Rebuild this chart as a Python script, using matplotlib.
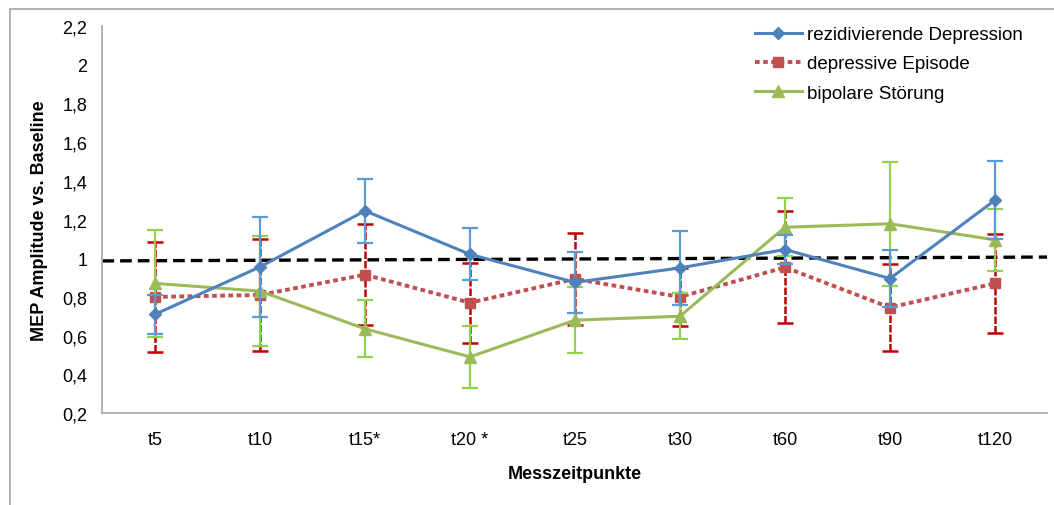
import numpy as np
import matplotlib
import matplotlib.pyplot as plt
from matplotlib.ticker import FuncFormatter, MultipleLocator
from matplotlib.patches import Rectangle
from matplotlib.lines import Line2D

matplotlib.use('Agg')

plt.rcParams['font.family'] = ['Liberation Sans', 'DejaVu Sans']

# categories and series values
zeitpunkte = ["t5", "t10", "t15*", "t20 *", "t25", "t30", "t60", "t90", "t120"]

rezidiv = [0.71, 0.955, 1.245, 1.02, 0.875, 0.95, 1.045, 0.895, 1.30]
rezidiv_err = [0.10, 0.26, 0.165, 0.135, 0.157, 0.19, 0.073, 0.145, 0.20]

episode = [0.80, 0.81, 0.915, 0.77, 0.893, 0.80, 0.953, 0.745, 0.87]
episode_err = [0.285, 0.29, 0.26, 0.207, 0.236, 0.15, 0.29, 0.223, 0.254]

bipolar = [0.87, 0.83, 0.635, 0.49, 0.68, 0.70, 1.16, 1.178, 1.095]
bipolar_err = [0.275, 0.285, 0.148, 0.16, 0.172, 0.12, 0.15, 0.32, 0.16]

baseline = [0.986, 1.006]  # slightly tilted reference line at 1

x = np.arange(len(zeitpunkte))

fig = plt.figure(figsize=(10.54, 5.06), dpi=100)
ax = fig.add_axes([0.0972, 0.1818, 0.8966, 0.7648])

# outer frame of the original chart
fig.patches.append(Rectangle((10 / 1054, -0.1), 1.2, 1 - 10 / 506 + 0.1,
                             transform=fig.transFigure, fill=False,
                             edgecolor="#a6a6a6", linewidth=1.2))

# dashed baseline
ax.plot([-0.5, 8.5], baseline, color="black", linestyle=(0, (3.5, 1.8)),
        linewidth=2.4, zorder=2)

blau = "#4f81bd"
rot = "#c0504d"
gruen = "#9bbb59"

# depressive Episode (red, dotted)
eb = ax.errorbar(x, episode, yerr=episode_err, color=rot, ecolor="#c00000",
                 elinewidth=1.8, capsize=6, capthick=1.8, linestyle=(0, (1.2, 0.9)),
                 linewidth=2.8, marker="s", markersize=7, zorder=3)
eb[2][0].set_linestyle((0, (3, 0.8)))

# bipolare Stoerung (green)
ax.errorbar(x, bipolar, yerr=bipolar_err, color=gruen, ecolor="#92d050",
            elinewidth=1.6, capsize=6, capthick=1.6, linewidth=2.2,
            marker="^", markersize=8, zorder=4)

# rezidivierende Depression (blue)
ax.errorbar(x, rezidiv, yerr=rezidiv_err, color=blau, ecolor="#5b9bd5",
            elinewidth=1.6, capsize=6, capthick=1.6, linewidth=2.2,
            marker="D", markersize=6.5, zorder=5)

ax.set_xlim(-0.5, 8.5)
ax.set_ylim(0.2, 2.2)
ax.yaxis.set_major_locator(MultipleLocator(0.2))
ax.yaxis.set_major_formatter(FuncFormatter(lambda v, p: ("%g" % round(v, 2)).replace(".", ",")))
ax.set_xticks(x)
ax.set_xticklabels(zeitpunkte)

ax.tick_params(axis="both", length=0, labelsize=13)
ax.tick_params(axis="y", pad=11)
ax.tick_params(axis="x", pad=13)

for s in ["top", "right"]:
    ax.spines[s].set_visible(False)
for s in ["left", "bottom"]:
    ax.spines[s].set_color("#a6a6a6")
    ax.spines[s].set_linewidth(1.2)

ax.set_xlabel("Messzeitpunkte", fontsize=13, fontweight="bold", labelpad=12)
ax.set_ylabel("MEP Amplitude vs. Baseline", fontsize=13, fontweight="bold", labelpad=10)

handles = [
    Line2D([], [], color=blau, linewidth=2.2, marker="D", markersize=6.5),
    Line2D([], [], color=rot, linewidth=2.8, linestyle=(0, (1.2, 0.9)), marker="s", markersize=7),
    Line2D([], [], color=gruen, linewidth=2.2, marker="^", markersize=8),
]
labels = ["rezidivierende Depression", "depressive Episode", "bipolare Störung"]
fig.legend(handles, labels, loc="upper left", bbox_to_anchor=(755 / 1054, 1 - 27 / 506),
           frameon=False, fontsize=13.5, handlelength=2.5, handletextpad=0.25,
           labelspacing=0.65, borderpad=0, borderaxespad=0)

plt.savefig("out.png", dpi=100)
plt.close()
